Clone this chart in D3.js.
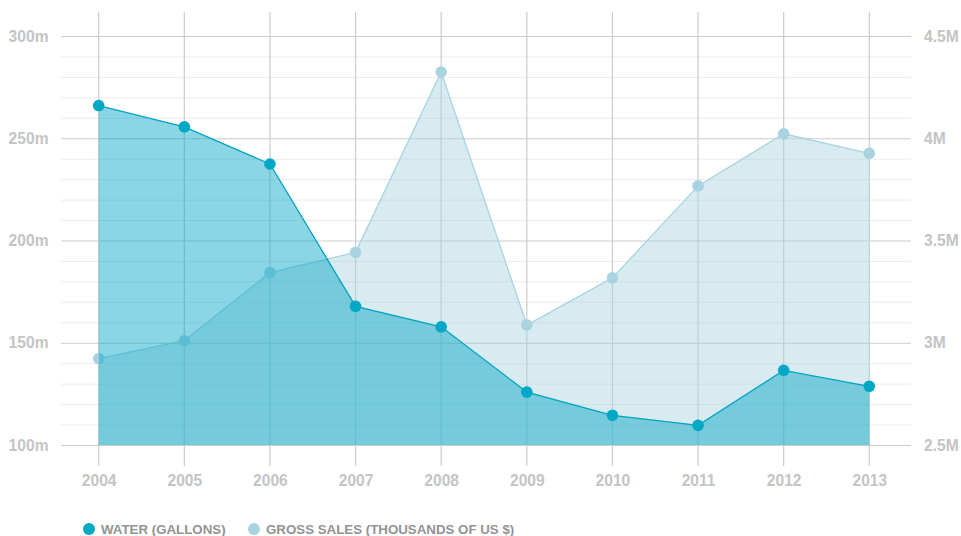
<!DOCTYPE html>
<html>
<head>
<meta charset="utf-8">
<script src="https://cdn.jsdelivr.net/npm/d3@7"></script>
<style>
body { margin: 0; background: #fff; }
svg { display: block; font-family: "Liberation Sans", Arial, sans-serif; }
</style>
</head>
<body>
<svg width="961" height="536"></svg>
<script>
const years = [2004, 2005, 2006, 2007, 2008, 2009, 2010, 2011, 2012, 2013];
// millions of gallons
const water = [266, 255.6, 237.4, 167.8, 157.8, 125.9, 114.5, 109.6, 136.5, 128.7];
// thousands of US $
const sales = [2922, 3010, 3343, 3442, 4324, 3087, 3317, 3767, 4022, 3926];
const leftTicks = [100, 150, 200, 250, 300];
const rightTicks = [2500, 3000, 3500, 4000, 4500];
const seriesNames = ["WATER (GALLONS)", "GROSS SALES (THOUSANDS OF US $)"];

const svg = d3.select("svg");

const plotLeft = 61, plotRight = 911, plotTop = 36, plotBottom = 445;

const x = d3.scalePoint()
    .domain(years)
    .range([98.7, 869.3]);

const yL = d3.scaleLinear().domain([100, 300]).range([plotBottom, plotTop]);
const yR = d3.scaleLinear().domain([2500, 4500]).range([plotBottom, plotTop]);

// minor grid every 10m
const minor = d3.range(100, 301, 10).filter(v => v % 50 != 0);
svg.append("g")
    .selectAll("line")
    .data(minor)
    .enter()
    .append("line")
    .attr("x1", plotLeft).attr("x2", plotRight)
    .attr("y1", d => yL(d) + 0.5).attr("y2", d => yL(d) + 0.5)
    .attr("stroke", "#ebebeb")
    .attr("stroke-width", 1);

svg.append("g")
    .selectAll("line")
    .data(leftTicks)
    .enter()
    .append("line")
    .attr("x1", plotLeft).attr("x2", plotRight)
    .attr("y1", d => yL(d) + 0.5).attr("y2", d => yL(d) + 0.5)
    .attr("stroke", "#cccccc")
    .attr("stroke-width", 1);

svg.append("g")
    .selectAll("line")
    .data(years)
    .enter()
    .append("line")
    .attr("x1", d => x(d)).attr("x2", d => x(d))
    .attr("y1", 12).attr("y2", 466)
    .attr("stroke", "#cccccc")
    .attr("stroke-width", 1.2);

// axes
const axL = svg.append("g")
    .attr("transform", "translate(48.5,0)")
    .call(d3.axisLeft(yL).tickValues(leftTicks).tickSize(0).tickPadding(0).tickFormat(d => d + "m"));
const axR = svg.append("g")
    .attr("transform", "translate(924,0)")
    .call(d3.axisRight(yR).tickValues(rightTicks).tickSize(0).tickPadding(0).tickFormat(d => (d / 1000) + "M"));
const axB = svg.append("g")
    .attr("transform", "translate(0,472)")
    .call(d3.axisBottom(x).tickSize(0).tickPadding(0));

[axL, axR, axB].forEach(function(a) {
    a.select(".domain").remove();
    a.selectAll("text")
        .attr("fill", "#c4c4c4")
        .style("font-size", "15.6px")
        .style("font-weight", "bold");
});
axB.selectAll("text").attr("dy", "0.9em");

const rows = years.map((d, i) => ({ year: d, water: water[i], sales: sales[i] }));

// gross sales
svg.append("path")
    .datum(rows)
    .attr("fill", "rgba(168,210,224,0.45)")
    .attr("d", d3.area().x(d => x(d.year)).y0(plotBottom).y1(d => yR(d.sales)));
svg.append("path")
    .datum(rows)
    .attr("fill", "none")
    .attr("stroke", "#a9d3e0")
    .attr("stroke-width", 1.3)
    .attr("d", d3.line().x(d => x(d.year)).y(d => yR(d.sales)));
svg.append("g")
    .selectAll("circle")
    .data(rows)
    .enter()
    .append("circle")
    .attr("cx", d => x(d.year))
    .attr("cy", d => yR(d.sales))
    .attr("r", 5.8)
    .attr("fill", "#a9d3e0");

// water
svg.append("path")
    .datum(rows)
    .attr("fill", "rgba(0,165,196,0.46)")
    .attr("d", d3.area().x(d => x(d.year)).y0(plotBottom).y1(d => yL(d.water)));
svg.append("path")
    .datum(rows)
    .attr("fill", "none")
    .attr("stroke", "#00a3c2")
    .attr("stroke-width", 1.3)
    .attr("d", d3.line().x(d => x(d.year)).y(d => yL(d.water)));
svg.append("g")
    .selectAll("circle")
    .data(rows)
    .enter()
    .append("circle")
    .attr("cx", d => x(d.year))
    .attr("cy", d => yL(d.water))
    .attr("r", 5.8)
    .attr("fill", "#00a8c6");

// legend
const legendColors = ["#00a8c6", "#a9d3e0"];
const legendX = [89, 254];
const lg = svg.append("g")
    .selectAll("g")
    .data(seriesNames)
    .enter()
    .append("g")
    .attr("transform", (d, i) => "translate(" + legendX[i] + ",529)");
lg.append("circle").attr("r", 6).attr("fill", (d, i) => legendColors[i]);
lg.append("text")
    .attr("x", 12)
    .attr("y", 4.6)
    .attr("fill", "#939393")
    .style("font-size", "13.3px")
    .style("font-weight", "bold")
    .text(d => d);
</script>
</body>
</html>
